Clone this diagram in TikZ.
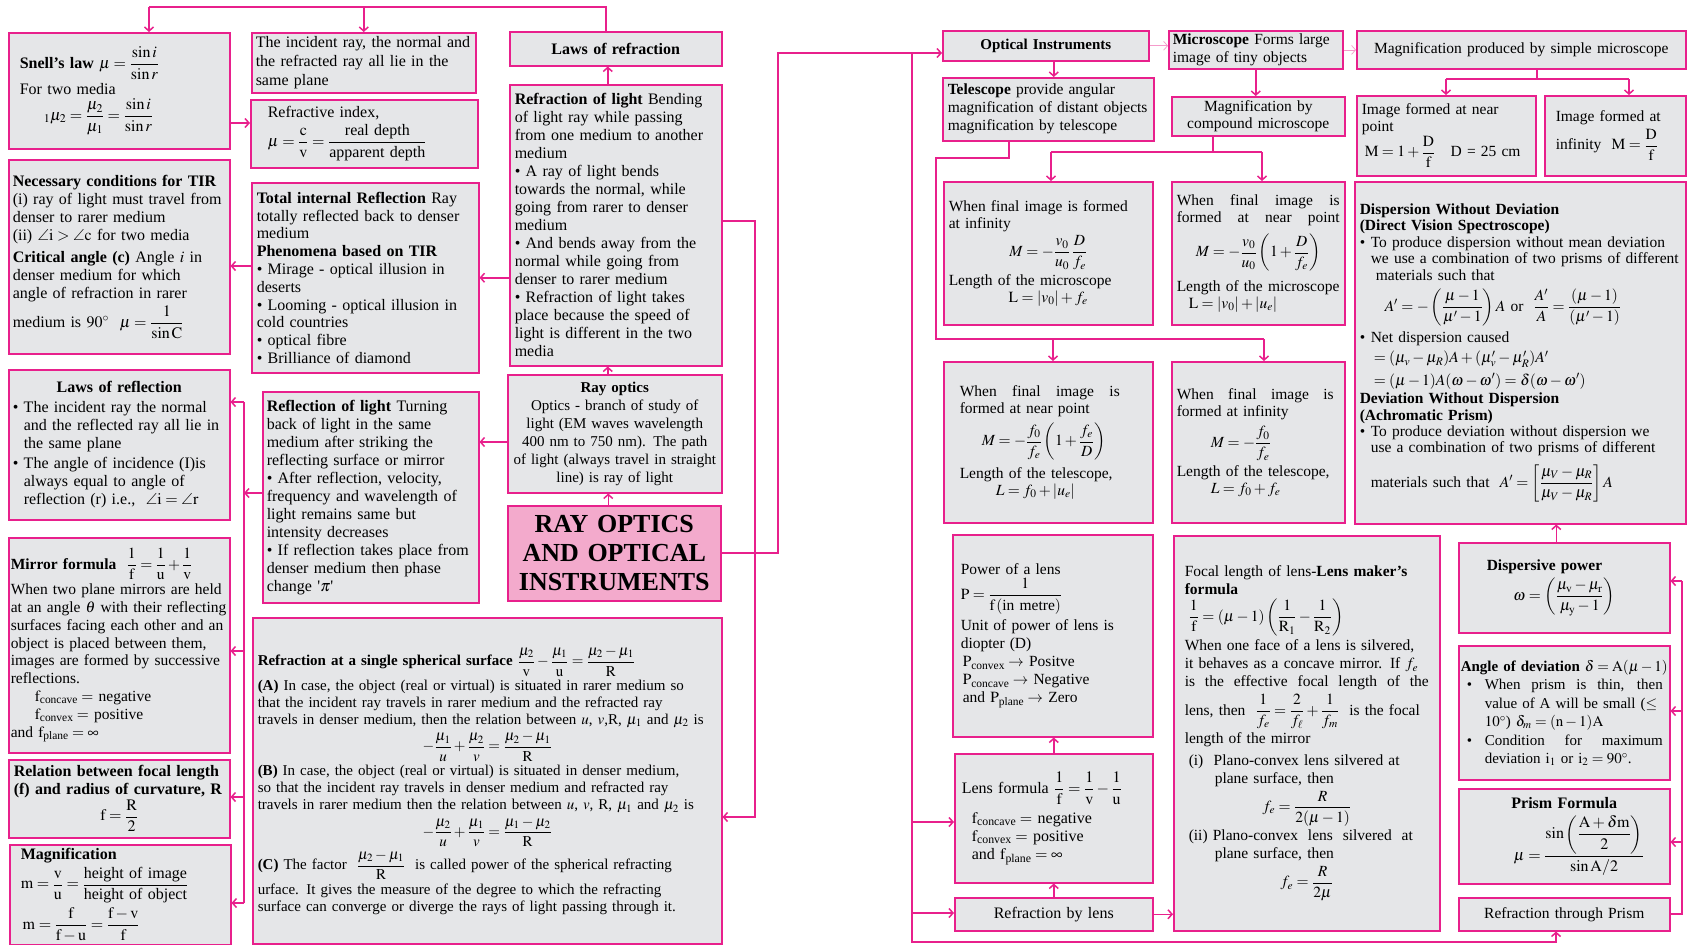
\documentclass[tikz,border=0pt]{standalone}
\usepackage{amsmath}
\usepackage{amssymb}
\usepackage{mathptmx}
\usepackage{fontspec}
\setmainfont{Liberation Serif}
\usepackage{xcolor}
\usepackage{tikz}
\usetikzlibrary{arrows.meta}

\definecolor{rpink}{RGB}{232,32,140}
\definecolor{rgray}{RGB}{229,230,232}
\definecolor{rmain}{RGB}{243,170,204}

\newcommand{\bul}{\makebox[11pt][l]{•}}
\newcommand{\ind}{\hspace*{11pt}}
\newcommand{\ctr}[1]{\makebox[\linewidth]{#1}}
\newcommand{\spreadline}[2]{\makebox[#1][s]{\spaceskip=0.25em plus 1fil\relax #2}}

\tikzset{
  box/.style={draw=rpink, line width=1.5pt, fill=rgray, anchor=north west,
    inner xsep=5pt, inner ysep=3pt, align=left,
    font=\fontsize{16}{18}\selectfont,
    execute at begin node={\setlength{\lineskip}{4pt}\setlength{\lineskiplimit}{2pt}}},
  link/.style={draw=rpink, line width=1.5pt},
  arr/.style={link, -{Straight Barb[length=4pt,width=9pt]}},
  thinarr/.style={draw=rpink!45, line width=0.7pt, -{Straight Barb[length=4pt,width=9pt]}}
}

\begin{document}
\begin{tikzpicture}[x=1pt,y=-1pt]

\fill[white] (0,0) rectangle (1692,945);
\useasboundingbox (0,0) rectangle (1692,945);

% left half
\node[box, text width=211pt, minimum height=116pt] (snell) at (8,32)
  {\hspace*{6pt}\textbf{Snell's law} $\mu=\dfrac{\sin i}{\sin r}$\\
   \hspace*{6pt}For two media\\
   \hspace*{30pt}${}_1\mu_2=\dfrac{\mu_2}{\mu_1}=\dfrac{\sin i}{\sin r}$};

\node[box, text width=216pt, inner xsep=4pt, minimum height=60pt,
  font=\fontsize{16}{15.5}\selectfont] (incident) at (251,32)
  {The incident ray, the normal and\\ the refracted ray all lie in the\\ same plane};

\node[box, text width=202pt, minimum height=34pt, align=center] (lawsrefr) at (509,31)
  {\textbf{Laws of refraction}};

\node[box, text width=217pt, minimum height=68pt] (refrindex) at (250,99)
  {\hspace*{12pt}Refractive index,\\
   \hspace*{12pt}$\mu=\dfrac{\mathrm{c}}{\mathrm{v}}=\dfrac{\text{real depth}}{\text{apparent depth}}$};

\node[box, text width=202pt, minimum height=281pt] (refrlight) at (509,84)
  {\textbf{Refraction of light} Bending\\
   of light ray while passing\\
   from one medium to another\\
   medium\\
   • A ray of light bends\\
   towards the normal, while\\
   going from rarer to denser\\
   medium\\
   • And bends away from the\\
   normal while going from\\
   denser to rarer medium\\
   • Refraction of light takes\\
   place because the speed of\\
   light is different in the two\\
   media};

\node[box, text width=213pt, inner xsep=4pt, minimum height=194pt] (tirneed) at (8,159)
  {\textbf{Necessary conditions for TIR}\\
   (i) ray of light must travel from\\
   denser to rarer medium\\
   (ii) $\angle\mathrm{i}>\angle\mathrm{c}$ for two media\\[4pt]
   \textbf{Critical angle (c)} Angle $i$ in\\
   denser medium for which\\
   angle of refraction in rarer\\
   medium is $90^\circ$ \ $\mu=\dfrac{1}{\sin\mathrm{C}}$};

\node[box, text width=217pt, minimum height=190pt,
  font=\fontsize{16}{17.8}\selectfont] (tir) at (251,182)
  {\textbf{Total internal Reflection} Ray\\
   totally reflected back to denser\\
   medium\\
   \textbf{Phenomena based on TIR}\\
   • Mirage - optical illusion in\\
   deserts\\
   • Looming - optical illusion in\\
   cold countries\\
   • optical fibre\\
   • Brilliance of diamond};

\node[box, text width=213pt, inner xsep=4pt, minimum height=150pt] (lawsrefl) at (8,369)
  {\ctr{\textbf{Laws of reflection}}\\[2pt]
   \bul The incident ray the normal\\
   \ind and the reflected ray all lie in\\
   \ind the same plane\\[2pt]
   \bul The angle of incidence (I)is\\
   \ind always equal to angle of\\
   \ind reflection (r) i.e., \ $\angle\mathrm{i}=\angle\mathrm{r}$};

\node[box, text width=208pt, inner xsep=4pt, minimum height=211pt] (reflight) at (262,391)
  {\textbf{Reflection of light} Turning\\
   back of light in the same\\
   medium after striking the\\
   reflecting surface or mirror\\
   • After reflection, velocity,\\
   frequency and wavelength of\\
   light remains same but\\
   intensity decreases\\
   • If reflection takes place from\\
   denser medium then phase\\
   change \textquotesingle$\pi$\textquotesingle};

\node[box, text width=210pt, inner xsep=2pt, minimum height=118pt, align=center,
  font=\fontsize{15}{18}\selectfont] (rayoptics) at (507,374)
  {\textbf{Ray optics}\\
   Optics - branch of study of\\
   light (EM waves wavelength\\
   400 nm to 750 nm). The path\\
   of light (always travel in straight\\
   line) is ray of light};

\node[box, text width=203pt, minimum height=95pt, align=center, fill=rmain,
  font=\fontsize{26}{29}\selectfont\bfseries] (main) at (507,505)
  {RAY OPTICS\\AND OPTICAL\\INSTRUMENTS};

\node[box, text width=217pt, inner xsep=2pt, minimum height=215pt,
  font=\fontsize{15.5}{17.8}\selectfont] (mirror) at (8,537)
  {\textbf{Mirror formula} \ $\dfrac{1}{\mathrm{f}}=\dfrac{1}{\mathrm{u}}+\dfrac{1}{\mathrm{v}}$\\
   When two plane mirrors are held\\
   at an angle $\theta$ with their reflecting\\
   surfaces facing each other and an\\
   object is placed between them,\\
   images are formed by successive\\
   reflections.\\
   \hspace*{24pt}$\mathrm{f}_{\text{concave}}=$ negative\\
   \hspace*{24pt}$\mathrm{f}_{\text{convex}}=$ positive\\
   and $\mathrm{f}_{\text{plane}}=\infty$};

\node[box, text width=211pt, minimum height=78pt, inner ysep=1pt,
  execute at begin node={\setlength{\lineskip}{1pt}}] (relation) at (8,759)
  {\textbf{Relation between focal length}\\
   \textbf{(f) and radius of curvature, R}\\
   \ctr{$\mathrm{f}=\dfrac{\mathrm{R}}{2}$}};

\node[box, text width=211pt, minimum height=100pt] (magnif) at (9,844)
  {\hspace*{6pt}\textbf{Magnification}\\
   \hspace*{6pt}$\mathrm{m}=\dfrac{\mathrm{v}}{\mathrm{u}}=\dfrac{\text{height of image}}{\text{height of object}}$\\
   \hspace*{8pt}$\mathrm{m}=\dfrac{\mathrm{f}}{\mathrm{f}-\mathrm{u}}=\dfrac{\mathrm{f}-\mathrm{v}}{\mathrm{f}}$};

\node[box, text width=459pt, minimum height=326pt,
  font=\fontsize{15}{17}\selectfont] (spherical) at (252,617)
  {\textbf{Refraction at a single spherical surface} $\dfrac{\mu_2}{\mathrm{v}}-\dfrac{\mu_1}{\mathrm{u}}=\dfrac{\mu_2-\mu_1}{\mathrm{R}}$\\
   \textbf{(A)} In case, the object (real or virtual) is situated in rarer medium so\\
   that the incident ray travels in rarer medium and the refracted ray\\
   travels in denser medium, then the relation between $u$, $v$,R, $\mu_1$ and $\mu_2$ is\\
   \ctr{$-\dfrac{\mu_1}{u}+\dfrac{\mu_2}{v}=\dfrac{\mu_2-\mu_1}{\mathrm{R}}$}\\
   \textbf{(B)} In case, the object (real or virtual) is situated in denser medium,\\
   so that the incident ray travels in denser medium and refracted ray\\
   travels in rarer medium then the relation between $u$, $v$, R, $\mu_1$ and $\mu_2$ is\\
   \ctr{$-\dfrac{\mu_2}{u}+\dfrac{\mu_1}{v}=\dfrac{\mu_1-\mu_2}{\mathrm{R}}$}\\
   \textbf{(C)} The factor \ $\dfrac{\mu_2-\mu_1}{\mathrm{R}}$ \ is called power of the spherical refracting\\
   urface. It gives the measure of the degree to which the refracting\\
   surface can converge or diverge the rays of light passing through it.};

% right half
\node[box, text width=196pt, minimum height=30pt, align=center,
  font=\fontsize{15}{17}\selectfont\bfseries] (optical) at (942,30)
  {Optical Instruments};

\node[box, text width=166pt, inner xsep=4pt, minimum height=38pt,
  font=\fontsize{15.5}{15}\selectfont] (microscope) at (1168,30)
  {\textbf{Microscope} Forms large\\ image of tiny objects};

\node[box, text width=319pt, minimum height=38pt, align=center,
  font=\fontsize{15.5}{17}\selectfont] (simple) at (1356,30)
  {Magnification produced by simple microscope};

\node[box, text width=201pt, minimum height=63pt,
  font=\fontsize{15.5}{18}\selectfont] (telescope) at (942,77)
  {\textbf{Telescope} provide angular\\
   magnification of distant objects\\
   magnification by telescope};

\node[box, text width=163pt, minimum height=39pt, align=center,
  font=\fontsize{15.5}{17}\selectfont] (compound) at (1171,96)
  {Magnification by\\ compound microscope};

\node[box, text width=169pt, minimum height=80pt, inner ysep=1pt,
  font=\fontsize{15.5}{17}\selectfont,
  execute at begin node={\setlength{\lineskip}{1pt}}] (nearpt) at (1356,95)
  {Image formed at near\\ point\\
   \hspace*{3pt}$\mathrm{M}=1+\dfrac{\mathrm{D}}{\mathrm{f}}$\quad D = 25 cm};

\node[box, text width=131pt, minimum height=80pt,
  font=\fontsize{15.5}{17}\selectfont] (infpt) at (1544,95)
  {\hspace*{6pt}Image formed at\\
   \hspace*{6pt}infinity \ $\mathrm{M}=\dfrac{\mathrm{D}}{\mathrm{f}}$};

\node[box, text width=199pt, minimum height=143pt,
  font=\fontsize{15.5}{17}\selectfont] (microinf) at (943,181)
  {When final image is formed\\ at infinity\\
   \ctr{$M=-\dfrac{v_0}{u_0}\,\dfrac{D}{f_e}$}\\
   Length of the microscope\\
   \ctr{$\mathrm{L}=|v_0|+f_e$}};

\node[box, text width=163pt, minimum height=143pt,
  font=\fontsize{15.5}{17}\selectfont] (micronear) at (1171,181)
  {\spreadline{\linewidth}{When final image is}\\
   \spreadline{\linewidth}{formed at near point}\\[5pt]
   \ctr{$M=-\dfrac{v_0}{u_0}\left(1+\dfrac{D}{f_e}\right)$}\\[5pt]
   Length of the microscope\\
   \hspace*{12pt}$\mathrm{L}=|v_0|+|u_e|$};

\node[box, text width=177pt, inner xsep=16pt, minimum height=161pt,
  font=\fontsize{15.5}{17}\selectfont] (telenear) at (943,361)
  {\spreadline{160pt}{When final image is}\\
   formed at near point\\[3pt]
   \hspace*{22pt}$M=-\dfrac{f_0}{f_e}\left(1+\dfrac{f_e}{D}\right)$\\[3pt]
   Length of the telescope,\\
   \hspace*{36pt}$L=f_0+|u_e|$};

\node[box, text width=163pt, minimum height=161pt,
  font=\fontsize{15.5}{17}\selectfont] (teleinf) at (1171,361)
  {\spreadline{157pt}{When final image is}\\
   formed at infinity\\[3pt]
   \hspace*{34pt}$M=-\dfrac{f_0}{f_e}$\\
   Length of the telescope,\\
   \hspace*{34pt}$L=f_0+f_e$};

\node[box, text width=184pt, inner xsep=8pt, minimum height=202pt,
  font=\fontsize{15.5}{18}\selectfont] (power) at (952,534)
  {Power of a lens\\
   $\mathrm{P}=\dfrac{1}{\mathrm{f}\,(\text{in metre})}$\\[2pt]
   Unit of power of lens is\\
   diopter (D)\\
   \hspace*{2pt}$\mathrm{P}_{\text{convex}}\rightarrow$ Positve\\
   \hspace*{2pt}$\mathrm{P}_{\text{concave}}\rightarrow$ Negative\\
   \hspace*{2pt}and $\mathrm{P}_{\text{plane}}\rightarrow$ Zero};

\node[box, text width=244pt, inner xsep=11pt, minimum height=395pt,
  font=\fontsize{15.5}{18}\selectfont] (lensmaker) at (1173,535)
  {Focal length of lens-\textbf{Lens maker's}\\
   \textbf{formula}\\
   \hspace*{4pt}$\dfrac{1}{\mathrm{f}}=(\mu-1)\left(\dfrac{1}{\mathrm{R}_1}-\dfrac{1}{\mathrm{R}_2}\right)$\\
   When one face of a lens is silvered,\\
   it behaves as a concave mirror. If $f_e$\\
   \spreadline{\linewidth}{is the effective focal length of the}\\
   lens, then \ $\dfrac{1}{f_e}=\dfrac{2}{f_\ell}+\dfrac{1}{f_m}$ \ is the focal\\
   length of the mirror\\[4pt]
   \hspace*{4pt}(i) \ Plano-convex lens silvered at\\
   \hspace*{30pt}plane surface, then\\
   \ctr{$f_e=\dfrac{R}{2(\mu-1)}$}\\
   \hspace*{4pt}(ii) \spreadline{200pt}{Plano-convex lens silvered at}\\
   \hspace*{30pt}plane surface, then\\
   \ctr{$f_e=\dfrac{R}{2\mu}$}};

\node[box, text width=184pt, inner xsep=7pt, minimum height=129pt] (lensformula) at (954,753)
  {Lens formula $\dfrac{1}{\mathrm{f}}=\dfrac{1}{\mathrm{v}}-\dfrac{1}{\mathrm{u}}$\\[4pt]
   \hspace*{10pt}$\mathrm{f}_{\text{concave}}=$ negative\\
   \hspace*{10pt}$\mathrm{f}_{\text{convex}}=$ positive\\
   \hspace*{10pt}and $\mathrm{f}_{\text{plane}}=\infty$};

\node[box, text width=188pt, minimum height=33pt, align=center] (refrlens) at (954,897)
  {Refraction by lens};

\node[box, text width=321pt, minimum height=342pt,
  font=\fontsize{15.5}{16.4}\selectfont,
  execute at begin node={\setlength{\lineskip}{3.5pt}}] (dispersion) at (1354,181)
  {\textbf{Dispersion Without Deviation}\\
   \textbf{(Direct Vision Spectroscope)}\\
   \bul To produce dispersion without mean deviation\\
   \ind we use a combination of two prisms of different\\
   \ind\ materials such that\\[5pt]
   \hspace*{25pt}$A'=-\left(\dfrac{\mu-1}{\mu'-1}\right)A$ or \ $\dfrac{A'}{A}=\dfrac{(\mu-1)}{(\mu'-1)}$\\[2pt]
   \bul Net dispersion caused\\[2pt]
   \hspace*{14pt}$=(\mu_v-\mu_R)A+(\mu'_v-\mu'_R)A'$\\[3pt]
   \hspace*{14pt}$=(\mu-1)A(\omega-\omega')=\delta(\omega-\omega')$\\
   \textbf{Deviation Without Dispersion}\\
   \textbf{(Achromatic Prism)}\\
   \bul To produce deviation without dispersion we\\
   \ind use a combination of two prisms of different\\[5pt]
   \ind materials such that \ $A'=\left[\dfrac{\mu_V-\mu_R}{\mu_V-\mu_R}\right]A$};

\node[box, text width=207pt, inner xsep=2pt, minimum height=90pt,
  font=\fontsize{15.5}{18}\selectfont] (dispersive) at (1458,542)
  {\hspace*{26pt}\textbf{Dispersive power}\\
   \ctr{$\omega=\left(\dfrac{\mu_\mathrm{v}-\mu_\mathrm{r}}{\mu_\mathrm{y}-1}\right)$}};

\node[box, text width=207pt, inner xsep=2pt, minimum height=134pt,
  font=\fontsize{15}{18.5}\selectfont] (angledev) at (1458,645)
  {\textbf{Angle of deviation} $\delta=\mathrm{A}(\mu-1)$\\
   \makebox[24pt][l]{\hspace{6pt}•}\spreadline{178pt}{When prism is thin, then}\\
   \hspace*{24pt}value of A will be small ($\leq$\\
   \hspace*{24pt}$10^\circ$) $\delta_m=(\mathrm{n}-1)\mathrm{A}$\\
   \makebox[24pt][l]{\hspace{6pt}•}\spreadline{178pt}{Condition for maximum}\\
   \hspace*{24pt}deviation $\mathrm{i}_1$ or $\mathrm{i}_2=90^\circ$.};

\node[box, text width=201pt, minimum height=95pt, inner ysep=1pt] (prismformula) at (1458,788)
  {\ctr{\textbf{Prism Formula}}\\[3pt]
   \hspace*{50pt}$\mu=\dfrac{\sin\left(\dfrac{\mathrm{A}+\delta\mathrm{m}}{2}\right)}{\sin\mathrm{A}/2}$};

\node[box, text width=201pt, minimum height=33pt, align=center,
  font=\fontsize{15.5}{17}\selectfont] (refrprism) at (1458,897)
  {Refraction through Prism};

% junction points
\coordinate (topL) at (149,7);
\coordinate (topR) at (606,7);
\coordinate (jSn) at (240,123);
\coordinate (jTn) at (240,266);
\coordinate (jRo) at (490,442);
\coordinate (lbusT) at (244,402);
\coordinate (lbusM) at (244,493);
\coordinate (jMir) at (244,651);
\coordinate (jRel) at (244,797);
\coordinate (lbusB) at (244,903);
\coordinate (jS1) at (755,221);
\coordinate (jS2) at (755,817);
\coordinate (jM1) at (778,553);
\coordinate (jM2) at (778,53);
\coordinate (jR1) at (912,53);
\coordinate (jR2) at (912,942);
\coordinate (jR3) at (1556,942);
\coordinate (jLf) at (912,822);
\coordinate (jRl) at (912,913);
\coordinate (jT1) at (1009,158);
\coordinate (jT2) at (936,158);
\coordinate (jT3) at (936,339);
\coordinate (jT4) at (1264,339);
\coordinate (jT5) at (1053,339);
\coordinate (jC1) at (1213,152);
\coordinate (jC2) at (1051,152);
\coordinate (jC3) at (1262,152);
\coordinate (jN1) at (1537,79);
\coordinate (jN2) at (1446,79);
\coordinate (jN3) at (1629,79);
\coordinate (jP1) at (1682,914);
\coordinate (jP2) at (1682,581);
\coordinate (jP3) at (1682,711);
\coordinate (jP4) at (1682,842);

% left connectors
\draw[link] (lawsrefr.north -| topR) -- (topR) -- (topL);
\draw[arr] (topL) -- (topL |- snell.north);
\draw[arr] (incident.north |- topL) -- (incident.north);
\draw[arr] (snell.east |- jSn) -- (refrindex.west |- jSn);
\draw[arr] (tir.west |- jTn) -- (tirneed.east |- jTn);
\draw[arr] (refrlight.west |- tir.east) -- (tir.east);
\draw[arr] ([xshift=-8pt]refrlight.north) -- ([xshift=-8pt]lawsrefr.south);
\draw[arr] ([xshift=-7pt]rayoptics.north) -- ([xshift=-7pt]rayoptics.north |- refrlight.south);
\draw[arr] ([xshift=-6pt]main.north) -- ([xshift=-6pt]main.north |- rayoptics.south);
\draw[arr] (rayoptics.west |- jRo) -- (reflight.east |- jRo);
\draw[arr] (reflight.west |- lbusM) -- (lbusM);
\draw[link] (lbusT) -- (lbusB);
\draw[arr] (lbusT) -- (lawsrefl.east |- lbusT);
\draw[arr] (jMir) -- (mirror.east |- jMir);
\draw[arr] (jRel) -- (relation.east |- jRel);
\draw[arr] (lbusB) -- (magnif.east |- lbusB);
\draw[arr] (refrlight.east |- jS1) -- (jS1) -- (jS2) -- (spherical.east |- jS2);

% centre to right
\draw[arr] (main.east |- jM1) -- (jM1) -- (jM2) -- (optical.west |- jM2);
\draw[arr] (jR1) -- (jR2) -- (jR3) -- (refrprism.south -| jR3);
\draw[arr] (jLf) -- (lensformula.west |- jLf);
\draw[arr] (jRl) -- (refrlens.west |- jRl);

% right connectors
\draw[arr] ([xshift=8pt]optical.south) -- ([xshift=8pt]optical.south |- telescope.north);
\draw[thinarr] (optical.east) -- (microscope.west |- optical.east);
\draw[thinarr] (microscope.east) -- (simple.west |- microscope.east);
\draw[arr] (microscope.south) -- (microscope.south |- compound.north);
\draw[link] (compound.south -| jC1) -- (jC1);
\draw[link] (jC2) -- (jC3);
\draw[arr] (jC2) -- (microinf.north -| jC2);
\draw[arr] (jC3) -- (micronear.north -| jC3);
\draw[link] (telescope.south -| jT1) -- (jT1) -- (jT2) -- (jT3) -- (jT4);
\draw[arr] (jT5) -- (telenear.north -| jT5);
\draw[arr] (jT4) -- (teleinf.north -| jT4);
\draw[link] (simple.south -| jN1) -- (jN1);
\draw[link] (jN2) -- (jN3);
\draw[arr] (jN2) -- (nearpt.north -| jN2);
\draw[arr] (jN3) -- (infpt.north -| jN3);
\draw[arr] (lensformula.north) -- (lensformula.north |- power.south);
\draw[arr] (refrlens.north) -- (lensformula.south);
\draw[arr] (refrlens.east) -- (refrlens.east -| lensmaker.west);
\draw[arr] ([xshift=-8pt]dispersive.north) -- ([xshift=-8pt]dispersive.north |- dispersion.south);
\draw[link] (refrprism.east |- jP1) -- (jP1) -- (jP2);
\draw[arr] (jP2) -- (dispersive.east |- jP2);
\draw[arr] (jP3) -- (angledev.east |- jP3);
\draw[arr] (jP4) -- (prismformula.east |- jP4);

\end{tikzpicture}
\end{document}
